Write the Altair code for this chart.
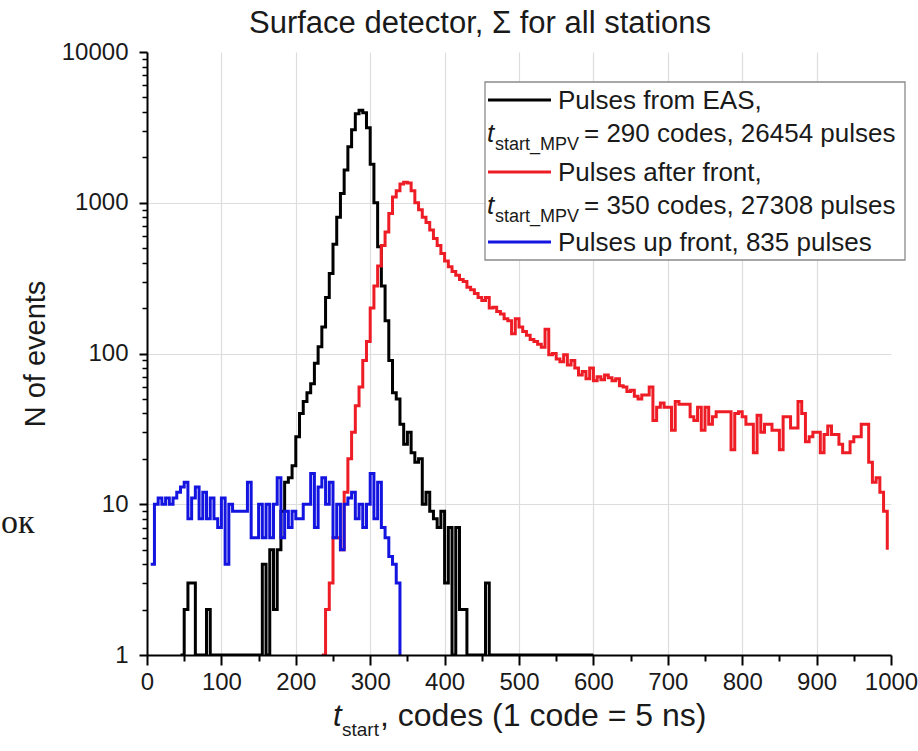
import altair as alt
import pandas as pd

# ---------------- data ----------------
TITLE = "Surface detector, \u03a3 for all stations"
BIN_WIDTH = 5  # codes per histogram bin

black_first_code = 45
black_counts = [
    1, 2, 3, 3, 1, 1, 1, 2, 1,                   # 45-85
    1, 1, 1, 1, 1, 1, 1, 1, 1, 1, 1, 1, 1,       # 90-150
    4, 1, 5, 2, 5, 9, 14, 15, 18, 28,            # 155-200
    40, 48, 55, 63, 86, 111, 150, 235, 340, 530, # 205-250
    800, 1150, 1650, 2350, 3050, 3900, 4100, 3950, 3150, 1800,  # 255-300
    1000, 510, 280, 165, 90, 55, 50, 34, 25, 30, # 305-350
    22, 19, 20, 10, 12, 9, 8, 7, 9, 3,           # 355-400
    7, 1, 7, 2, 2, 1, 1, 1, 1, 1,                # 405-450
    3, 1, 1, 1, 1, 1, 1, 1, 1, 1,                # 455-500
    1, 1, 1, 1, 1, 1, 1, 1, 1, 1,                # 505-550
    1, 1, 1, 1, 1, 1, 1, 1, 1, 1,                # 555-600
]

red_first_code = 235
red_counts = [
    1, 2, 3, 6, 6, 5, 12, 20, 30, 45, 60,            # 235-285
    90, 120, 200, 280, 380, 520, 640, 850, 1090, 1200,  # 290-335
    1330, 1370, 1350, 1200, 1000, 900, 800, 740, 660, 580,  # 340-385
    520, 460, 410, 376, 350, 330, 310, 300, 275, 265,  # 390-435
    250, 235, 225, 235, 200, 203, 190, 183, 170, 165,  # 440-485
    135, 170, 150, 140, 132, 124, 120, 115, 110, 145,  # 490-535
    98, 100, 92, 88, 98, 84, 90, 80, 72, 76,           # 540-585
    68, 80, 66, 70, 67, 72, 69, 66, 68, 61,            # 590-635
    60, 56, 57, 52, 50, 53, 53, 60, 36, 44,            # 640-685
    47, 44, 44, 31, 48, 46, 46, 46, 38, 36,            # 690-735
    44, 31, 44, 34, 38, 41, 41, 41, 41, 23,            # 740-785
    40, 41, 38, 34, 34, 22, 39, 30, 34, 34,            # 790-835
    31, 31, 23, 38, 38, 32, 32, 48, 40, 26,            # 840-885
    28, 30, 30, 22, 29, 33, 29, 29, 25, 22,            # 890-935
    22, 26, 28, 28, 34, 34, 19, 14, 15, 12,            # 940-985
    9, 5,                                              # 990-995
]

blue_first_code = 5
blue_counts = [
    4, 10, 11, 10, 11, 10, 11, 12, 13, 14,   # 5-50
    8, 11, 13, 8, 12, 8, 11, 8, 7, 11,       # 55-100
    4, 10, 9, 9, 9, 9, 14, 6, 6, 10,         # 105-150
    6, 10, 6, 10, 15, 6, 9, 7, 9, 8,         # 155-200
    8, 10, 10, 16, 7, 13, 15, 10, 14, 6,     # 205-250
    10, 5, 10, 11, 12, 8, 10, 7, 10, 16,     # 255-300
    8, 14, 7, 6, 4.5, 4, 3, 1,               # 305-340
]

series_names = ["EAS", "after", "up"]
series_colors = ["#000000", "#ee1c25", "#1414e0"]

x_ticks = [0, 100, 200, 300, 400, 500, 600, 700, 800, 900, 1000]
x_minor = [50, 150, 250, 350, 450, 550, 650, 750, 850, 950]
x_grid = [100, 200, 300, 400, 500, 600, 700, 800, 900]
y_ticks = [1, 10, 100, 1000, 10000]
y_minor = [2, 3, 4, 5, 6, 7, 8, 9,
           20, 30, 40, 50, 60, 70, 80, 90,
           200, 300, 400, 500, 600, 700, 800, 900,
           2000, 3000, 4000, 5000, 6000, 7000, 8000, 9000]
y_grid = [10, 100, 1000]

legend_first = ["Pulses from EAS,", "Pulses after front,", "Pulses up front, 835 pulses"]
legend_second = ["= 290 codes, 26454 pulses", "= 350 codes, 27308 pulses"]

# ---------------- table ----------------
rows = []
for name, first, counts in zip(series_names,
                               [black_first_code, red_first_code, blue_first_code],
                               [black_counts, red_counts, blue_counts]):
    for i, c in enumerate(counts):
        rows.append({"series": name, "code": first + i * BIN_WIDTH, "count": c})
df = pd.DataFrame(rows)

FONT = "Liberation Sans"
TXT = "#1a1a1a"
W, H = 744, 603

xs = alt.Scale(domain=[0, 1000], nice=False, zero=False)
ys = alt.Scale(type="log", domain=[1, 10000], nice=False)

axis_x_major = alt.Axis(orient="bottom", values=x_ticks, format="d", grid=False,
                        tickSize=10, tickWidth=2, tickColor="black",
                        domainColor="black", domainWidth=2,
                        labelFont=FONT, labelFontSize=24, labelColor=TXT,
                        labelPadding=5, labelFlush=False, labelOverlap=False,
                        title=None, zindex=1)
axis_y_major = alt.Axis(orient="left", values=y_ticks, format="d", grid=False,
                        tickSize=8, tickWidth=2, tickColor="black",
                        domainColor="black", domainWidth=2,
                        labelFont=FONT, labelFontSize=24, labelColor=TXT,
                        labelPadding=11, labelFlush=False, labelOverlap=False,
                        title="N of events", titleFont=FONT, titleFontSize=29,
                        titleFontWeight="normal", titleColor=TXT,
                        titleAngle=270, titleX=-112, titleY=H / 2,
                        titleAlign="center", titleBaseline="middle", zindex=1)
axis_x_minor = alt.Axis(orient="bottom", values=x_minor, labels=False, grid=False,
                        domain=False, tickSize=6, tickWidth=2, tickColor="black",
                        title=None)
axis_y_minor = alt.Axis(orient="left", values=y_minor, labels=False, grid=False,
                        domain=False, tickSize=5, tickWidth=1.5, tickColor="black",
                        title=None)
axis_x_grid = alt.Axis(orient="bottom", values=x_grid, labels=False, ticks=False,
                       domain=False, grid=True, gridColor="#dddddd", gridWidth=1.2,
                       title=None)
axis_y_grid = alt.Axis(orient="left", values=y_grid, labels=False, ticks=False,
                       domain=False, grid=True, gridColor="#dddddd", gridWidth=1.2,
                       title=None)

base = alt.Chart(df)

grid_layer = base.mark_line(opacity=0).encode(
    x=alt.X("code:Q", scale=xs, axis=axis_x_grid),
    y=alt.Y("count:Q", scale=ys, axis=axis_y_grid),
    detail="series:N",
)
minor_layer = base.mark_line(opacity=0).encode(
    x=alt.X("code:Q", scale=xs, axis=axis_x_minor),
    y=alt.Y("count:Q", scale=ys, axis=axis_y_minor),
    detail="series:N",
)


def series_layer(name, color, with_axes):
    return base.transform_filter(alt.datum.series == name).mark_line(
        interpolate="step-after", color=color, strokeWidth=3, clip=True
    ).encode(
        x=alt.X("code:Q", scale=xs, axis=axis_x_major if with_axes else None),
        y=alt.Y("count:Q", scale=ys, axis=axis_y_major if with_axes else None),
    )


lines = [series_layer(n, c, i == 0) for i, (n, c) in enumerate(zip(series_names, series_colors))]

one = alt.Data(values=[{}])


def txt(text, x, y, size, style="normal", align="left", font=FONT, color=TXT):
    return alt.Chart(one).mark_text(
        text=text, font=font, fontSize=size, fontStyle=style, align=align,
        baseline="alphabetic", color=color, clip=False
    ).encode(x=alt.value(x), y=alt.value(y))


def rule(x1, x2, y, color):
    return alt.Chart(one).mark_rule(color=color, strokeWidth=3).encode(
        x=alt.value(x1), x2=alt.value(x2), y=alt.value(y))


legend_box = alt.Chart(one).mark_rect(fill="white", stroke="#8a8a8a", strokeWidth=1.3).encode(
    x=alt.value(338), x2=alt.value(758), y=alt.value(30), y2=alt.value(208))

legend = [
    legend_box,
    rule(341, 404, 48, series_colors[0]),
    txt(legend_first[0], 411, 57, 26),
    txt("t", 340, 90, 26, "italic"),
    txt("start_MPV", 348, 98, 18),
    txt(legend_second[0], 437, 90, 26),
    rule(341, 404, 120, series_colors[1]),
    txt(legend_first[1], 411, 129, 26),
    txt("t", 340, 162, 26, "italic"),
    txt("start_MPV", 348, 170, 18),
    txt(legend_second[1], 437, 162, 26),
    rule(341, 404, 190, series_colors[2]),
    txt(legend_first[2], 411, 199, 26),
]

titles = [
    txt(TITLE, 333, -19, 31, align="center"),
    txt("t", 186, 674, 31, "italic"),
    txt("start", 195, 684, 19),
    txt(", codes (1 code = 5 ns)", 233, 674, 32),
]

stray = [txt("ок", -146, 481, 34, font="Liberation Serif")]

chart = alt.layer(
    grid_layer, minor_layer, *lines, *legend, *titles, *stray
).resolve_axis(
    x="independent", y="independent"
).properties(
    width=W, height=H,
    autosize=alt.AutoSizeParams(type="none"),
    padding={"left": 147, "top": 52, "right": 27, "bottom": 96},
    background="white",
).configure_view(stroke=None)

chart.save("out.html", embed_options={"renderer": "svg", "actions": False})
